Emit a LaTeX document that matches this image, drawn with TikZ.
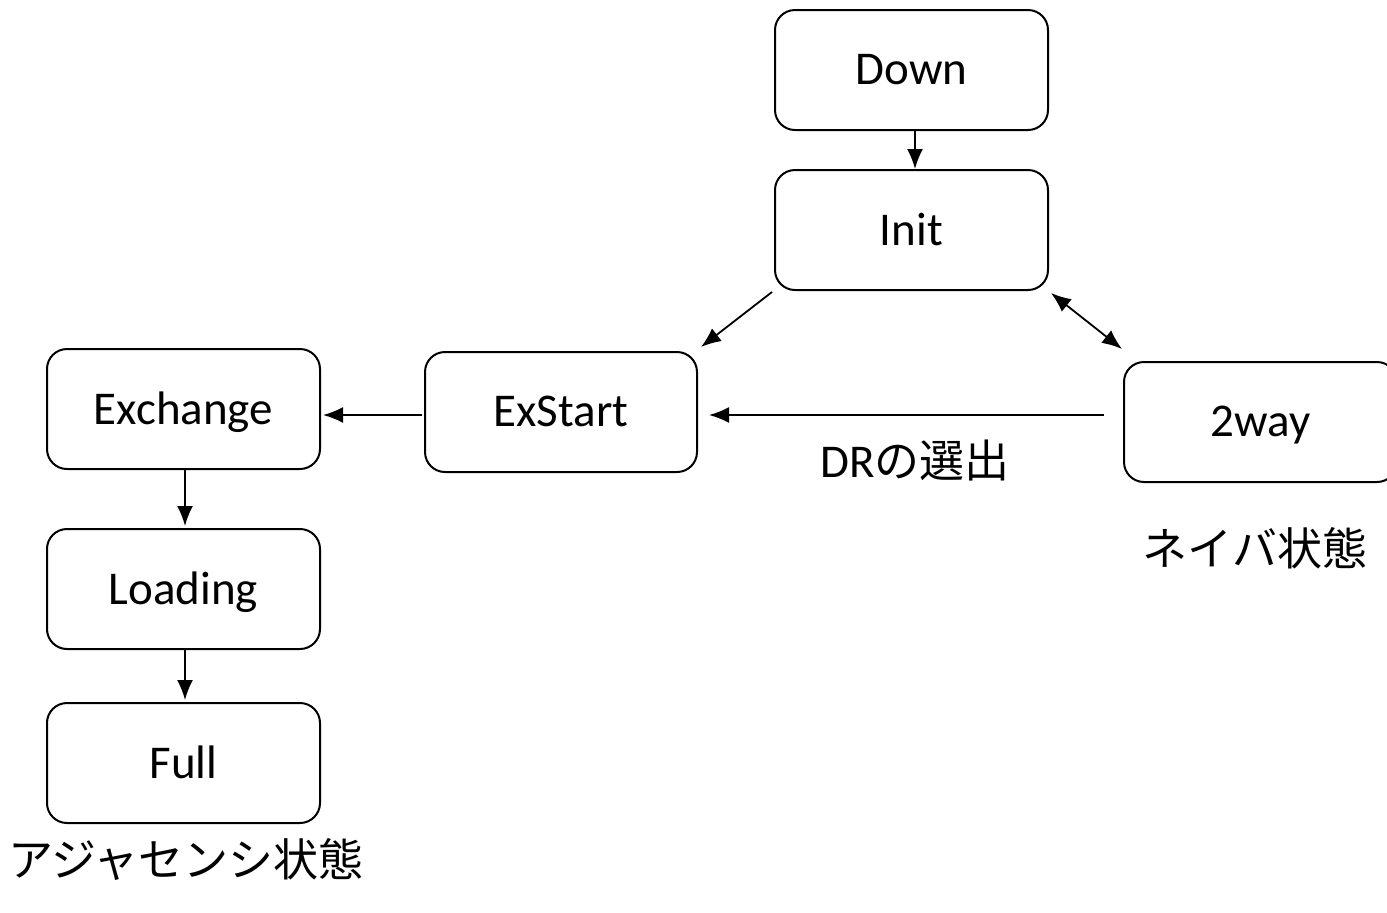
\documentclass[tikz,border=0pt]{standalone}
\usepackage{fontspec}
\setmainfont{Carlito}
\newfontfamily\cjk{Noto Sans CJK JP}
\usetikzlibrary{arrows.meta,calc}
\begin{document}
\begin{tikzpicture}[x=0.5pt,y=-0.5pt,
  state/.style={draw,line width=1pt,rounded corners=10pt,minimum width=136.5pt,minimum height=60pt,inner sep=0pt,text depth=1pt,font=\fontsize{23.5}{27}\selectfont},
  tip/.tip={Latex[length=10pt,width=8pt]},
  arr/.style={line width=0.9pt,-tip},
  darr/.style={line width=0.9pt,tip-tip},
  lbl/.style={inner sep=0pt,font=\fontsize{22.5}{26}\selectfont}]
\clip (0,0) rectangle (1387,912);
\fill[white] (0,0) rectangle (1387,912);
\node[state] (down) at (911.5,70) {Down};
\node[state] (init) at (911.5,230) {Init};
\node[state,minimum width=136pt] (exstart) at (561,412) {ExStart};
\node[state] (exchange) at (183.5,409) {Exchange};
\node[state] (loading) at (183.5,589) {Loading};
\node[state] (full) at (183.5,763) {Full};
\node[state] (twoway) at (1260.5,422) {2way};
\draw[arr] ([shift={(3.5,0)}]down.south) -- ([shift={(3.5,0)}]init.north);
\draw[arr] ([shift={(-2,1)}]init.south west) -- ([shift={(3,-4)}]exstart.north east);
\draw[darr] ([shift={(2,2)}]init.south east) -- ([shift={(-1,-12)}]twoway.north west);
\draw[arr] ([shift={(-19,-7)}]twoway.west) -- ([shift={(11,3)}]exstart.east);
\draw[arr] ([shift={(-2,3)}]exstart.west) -- ([shift={(2,6)}]exchange.east);
\draw[arr] ([shift={(1.5,0)}]exchange.south) -- ([shift={(1.5,-2)}]loading.north);
\draw[arr] ([shift={(1.5,0)}]loading.south) -- ([shift={(1.5,-2)}]full.north);
\node[lbl] (dr) at (915,460) {\fontsize{23.5}{27}\selectfont DR{\cjk\fontsize{22.5}{26}\selectfont の選出}};
\node[lbl] (neighbor) at (1255,548) {\cjk ネイバ状態};
\node[lbl] (adj) at (186,859) {\cjk アジャセンシ状態};
\end{tikzpicture}
\end{document}
